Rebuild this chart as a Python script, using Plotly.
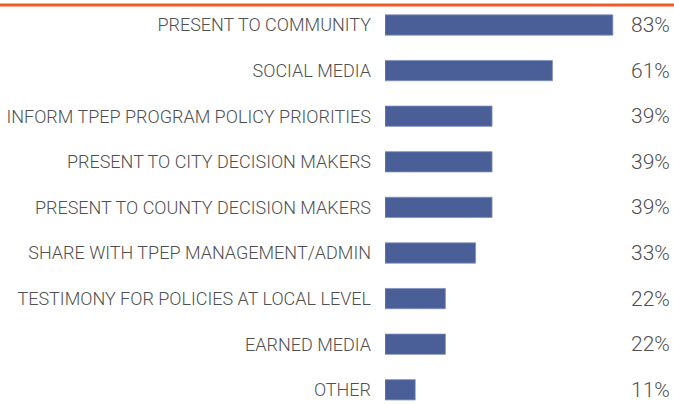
import plotly.graph_objects as go

# Survey responses: how results are used
categories = [
    "PRESENT TO COMMUNITY",
    "SOCIAL MEDIA",
    "INFORM TPEP PROGRAM POLICY PRIORITIES",
    "PRESENT TO CITY DECISION MAKERS",
    "PRESENT TO COUNTY DECISION MAKERS",
    "SHARE WITH TPEP MANAGEMENT/ADMIN",
    "TESTIMONY FOR POLICIES AT LOCAL LEVEL",
    "EARNED MEDIA",
    "OTHER",
]
percent = [83, 61, 39, 39, 39, 33, 22, 22, 11]

W, H = 674, 404
LEFT = 385
FONT = "Roboto, sans-serif"
TEXT_COLOR = "#505050"
BAR_COLOR = "#4a5f97"
FONT_SIZE = 18

fig = go.Figure(
    go.Bar(
        x=percent,
        y=categories,
        orientation="h",
        width=0.445,
        marker=dict(color=BAR_COLOR, line=dict(color="#8091bd", width=0.8)),
        hoverinfo="skip",
    )
)

# percentage labels aligned at the right edge
for cat, val in zip(categories, percent):
    fig.add_annotation(
        x=1, xref="paper", y=cat, yref="y",
        text=f"{val}%", showarrow=False,
        xanchor="right", yanchor="middle", xshift=-2,
        font=dict(family=FONT, size=21, color=TEXT_COLOR, weight=300),
    )

# orange rule across the top
plot_w = W - LEFT
fig.add_shape(
    type="line", xref="paper", yref="paper",
    x0=-LEFT / plot_w, x1=1, y0=1 - 5 / H, y1=1 - 5 / H,
    line=dict(color="#f15a29", width=3),
)

px_per_row = 45.6
r0 = -25 / px_per_row
r1 = r0 + H / px_per_row

fig.update_layout(
    width=W, height=H,
    margin=dict(l=LEFT, r=0, t=0, b=0, autoexpand=False),
    paper_bgcolor="white", plot_bgcolor="white",
    showlegend=False,
    xaxis=dict(range=[0, plot_w / 2.745], visible=False, fixedrange=True,
               automargin=False),
    yaxis=dict(
        range=[r1, r0], showgrid=False, zeroline=False, showline=False,
        ticks="", ticklabelstandoff=13, automargin=False,
        tickfont=dict(family=FONT, size=FONT_SIZE, color=TEXT_COLOR, weight=300),
        fixedrange=True,
    ),
)

fig.write_html("out.html", config={"displayModeBar": False})
